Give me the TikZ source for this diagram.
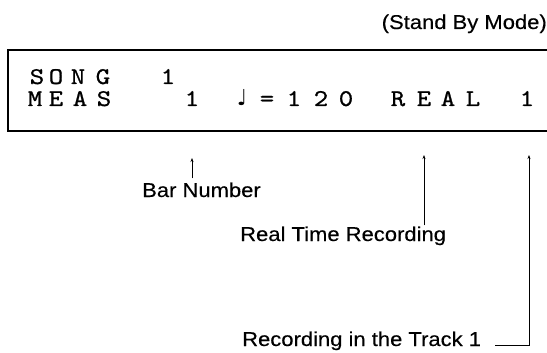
\documentclass[tikz,border=0pt]{standalone}
\usepackage{fontspec}
\setmainfont[FakeStretch=1.1,FakeBold=0.3]{Liberation Sans}
\newfontfamily\lcdfont[FakeBold=0.8,FakeStretch=1.15]{lmmono10-regular.otf}
\newfontfamily\notefont{DejaVu Sans}
\usetikzlibrary{arrows.meta}
\begin{document}
\begin{tikzpicture}[x=1pt,y=-1pt,
  lcd/.style={font=\fontsize{24}{24}\selectfont\lcdfont, inner sep=0pt, anchor=base},
  lab/.style={font=\fontsize{20}{24}\selectfont, inner sep=0pt},
  pointer/.style={-{Stealth[length=4pt,width=3pt]}, line width=0.7pt},
  frame/.style={line width=1.3pt}]
\useasboundingbox (0,0) rectangle (547,353);
% display frame (right side cut off)
\draw[frame] (547,50) -- (8,50) -- (8,131) -- (547,131);
% row 1
\foreach \c/\x [count=\i] in {S/37,O/56,N/78,G/103,1/168}
  \node[lcd, name=ra\i] at (\x,84) {\c};
% row 2
\foreach \c/\x [count=\i] in {M/35,E/56,A/80,S/104,1/192,{=}/267,1/294,2/321,0/346,R/398,E/424,A/448,L/473,1/527}
  \node[lcd, name=rb\i] at (\x,106) {\c};
\node[lcd, font=\fontsize{22}{22}\selectfont\notefont] (note) at (242,106) {♩};
% labels
\node[lab, anchor=base east] (mode) at (547,29) {(Stand By Mode)};
\node[lab, anchor=base west] (bar) at (142,197) {Bar Number};
\node[lab, anchor=base west] (rtr) at (240,241) {Real Time Recording};
\node[lab, anchor=base west] (trk) at (242,346) {Recording in the Track 1};
% pointers
\coordinate (bartip) at (192,158);
\coordinate (rtrtip) at (424,155);
\coordinate (trkcorner) at (529,345);
\coordinate (trktip) at (529,155);
\draw[pointer, shorten <=4pt] (bar.north -| bartip) -- (bartip);
\draw[pointer, shorten <=1pt] (rtr.north -| rtrtip) -- (rtrtip);
\draw[pointer, shorten <=14pt] (trk.east |- trkcorner) -- (trkcorner) -- (trktip);
\end{tikzpicture}
\end{document}
